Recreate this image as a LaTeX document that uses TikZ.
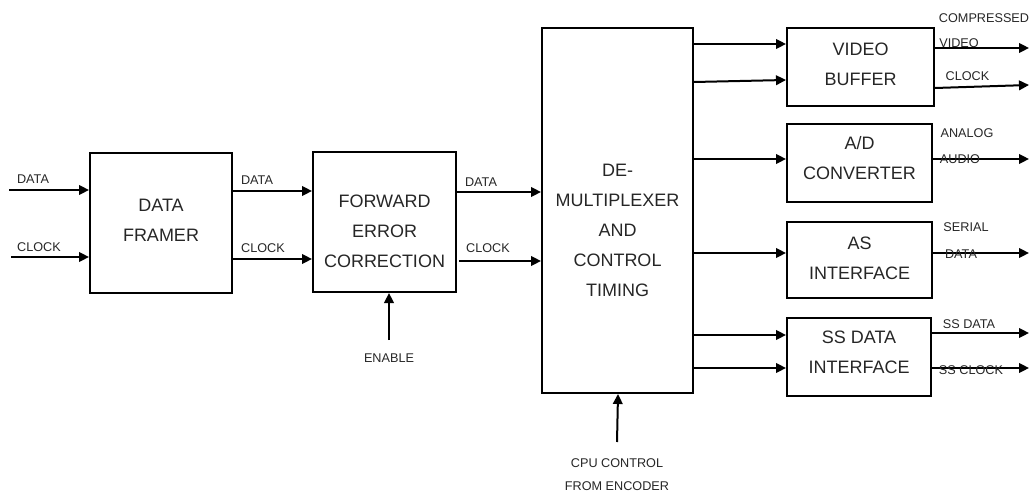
\documentclass[tikz,border=0pt]{standalone}
\usepackage{fontspec}
\setmainfont{Liberation Sans}
\usetikzlibrary{arrows.meta,calc}
\begin{document}
\begin{tikzpicture}[x=0.75pt,y=-0.75pt,
  blk/.style={draw,line width=1.5pt,rectangle,inner sep=0pt},
  btxt/.style={align=center,text=black!85,font=\fontsize{13.5}{22.5}\selectfont,inner sep=0pt},
  lbl/.style={text=black!85,font=\fontsize{9.5}{12}\selectfont,inner sep=0pt},
  arr/.style={line width=1.5pt,-{Triangle[length=7.5pt,width=7.2pt]}}]
\useasboundingbox (0,0) rectangle (1030,495);
\clip (0,0) rectangle (1030,495);
% boxes
\node[blk,minimum width=142*0.75pt,minimum height=140*0.75pt] (df) at (161,223) {};
\node[blk,minimum width=143*0.75pt,minimum height=140*0.75pt] (fec) at (384.5,222) {};
\node[blk,minimum width=151*0.75pt,minimum height=365*0.75pt] (dm) at (617.5,210.5) {};
\node[blk,minimum width=147*0.75pt,minimum height=78*0.75pt] (vb) at (860.5,67) {};
\node[blk,minimum width=145*0.75pt,minimum height=78*0.75pt] (ad) at (859.5,163) {};
\node[blk,minimum width=145*0.75pt,minimum height=76*0.75pt] (as) at (859.5,260) {};
\node[blk,minimum width=144*0.75pt,minimum height=78*0.75pt] (ss) at (859,357) {};
% box texts
\node[btxt] (dft) at (161,220) {DATA\\FRAMER};
\node[btxt] (fect) at (384.5,231) {FORWARD\\ERROR\\CORRECTION};
\node[btxt] (dmt) at (617.5,230) {DE-\\MULTIPLEXER\\AND\\CONTROL\\TIMING};
\node[btxt] (vbt) at (860.5,64) {VIDEO\\BUFFER};
\node[btxt] (adt) at (859.5,158) {A/D\\CONVERTER};
\node[btxt] (ast) at (859.5,258) {AS\\INTERFACE};
\node[btxt] (sst) at (859,352) {SS DATA\\INTERFACE};
% free ends
\coordinate (inD) at (9,190);
\coordinate (inC) at (11,257);
\coordinate (en) at (389,340);
\coordinate (cpu) at (617,442);
\coordinate (o1) at (1029,48);
\coordinate (o2) at (1029,85);
\coordinate (o3) at (1029,159);
\coordinate (o4) at (1029,253);
\coordinate (o5) at (1029,333);
\coordinate (o6) at (1029,368);
% connectors
\draw[arr] (inD) -- (inD -| df.west);
\draw[arr] (inC) -- (inC -| df.west);
\draw[arr] (df.east |- 0,191) -- (fec.west |- 0,191);
\draw[arr] (df.east |- 0,259) -- (fec.west |- 0,259);
\draw[arr] (fec.east |- 0,192) -- (dm.west |- 0,192);
\draw[arr] ([xshift=1.5pt]fec.east |- 0,261) -- (dm.west |- 0,261);
\draw[arr] (en) -- (en |- fec.south);
\draw[arr] (cpu) -- (618,0 |- dm.south);
\draw[arr] (dm.east |- 0,44) -- (vb.west |- 0,44);
\draw[arr] (dm.east |- 0,82) -- (vb.west |- 0,80);
\draw[arr] (dm.east |- 0,159) -- (ad.west |- 0,159);
\draw[arr] (dm.east |- 0,253) -- (as.west |- 0,253);
\draw[arr] (dm.east |- 0,335) -- (ss.west |- 0,335);
\draw[arr] (dm.east |- 0,368) -- (ss.west |- 0,368);
\draw[arr] (vb.east |- o1) -- (o1);
\draw[arr] (vb.east |- 0,88) -- (o2);
\draw[arr] (ad.east |- o3) -- (o3);
\draw[arr] (as.east |- o4) -- (o4);
\draw[arr] (ss.east |- o5) -- (o5);
\draw[arr] (ss.east |- o6) -- (o6);
% labels
\node[lbl] (l1) at (33,179) {DATA};
\node[lbl] (l2) at (39,247) {CLOCK};
\node[lbl] (l3) at (257,180) {DATA};
\node[lbl] (l4) at (263,248) {CLOCK};
\node[lbl] (l5) at (481,182) {DATA};
\node[lbl] (l6) at (488,248) {CLOCK};
\node[lbl] (l7) at (389,358) {ENABLE};
\node[lbl] (l8) at (617,463) {CPU CONTROL};
\node[lbl] (l9) at (617,486.5) {FROM ENCODER};
\node[lbl] (l10) at (984,18) {COMPRESSED};
\node[lbl] (l11) at (959,43) {VIDEO};
\node[lbl] (l12) at (967.5,76) {CLOCK};
\node[lbl] (l13) at (967,133) {ANALOG};
\node[lbl] (l14) at (960,159) {AUDIO};
\node[lbl] (l15) at (966,227) {SERIAL};
\node[lbl] (l16) at (961,254) {DATA};
\node[lbl] (l17) at (969,324) {SS DATA};
\node[lbl] (l18) at (971,370) {SS CLOCK};
\end{tikzpicture}
\end{document}
